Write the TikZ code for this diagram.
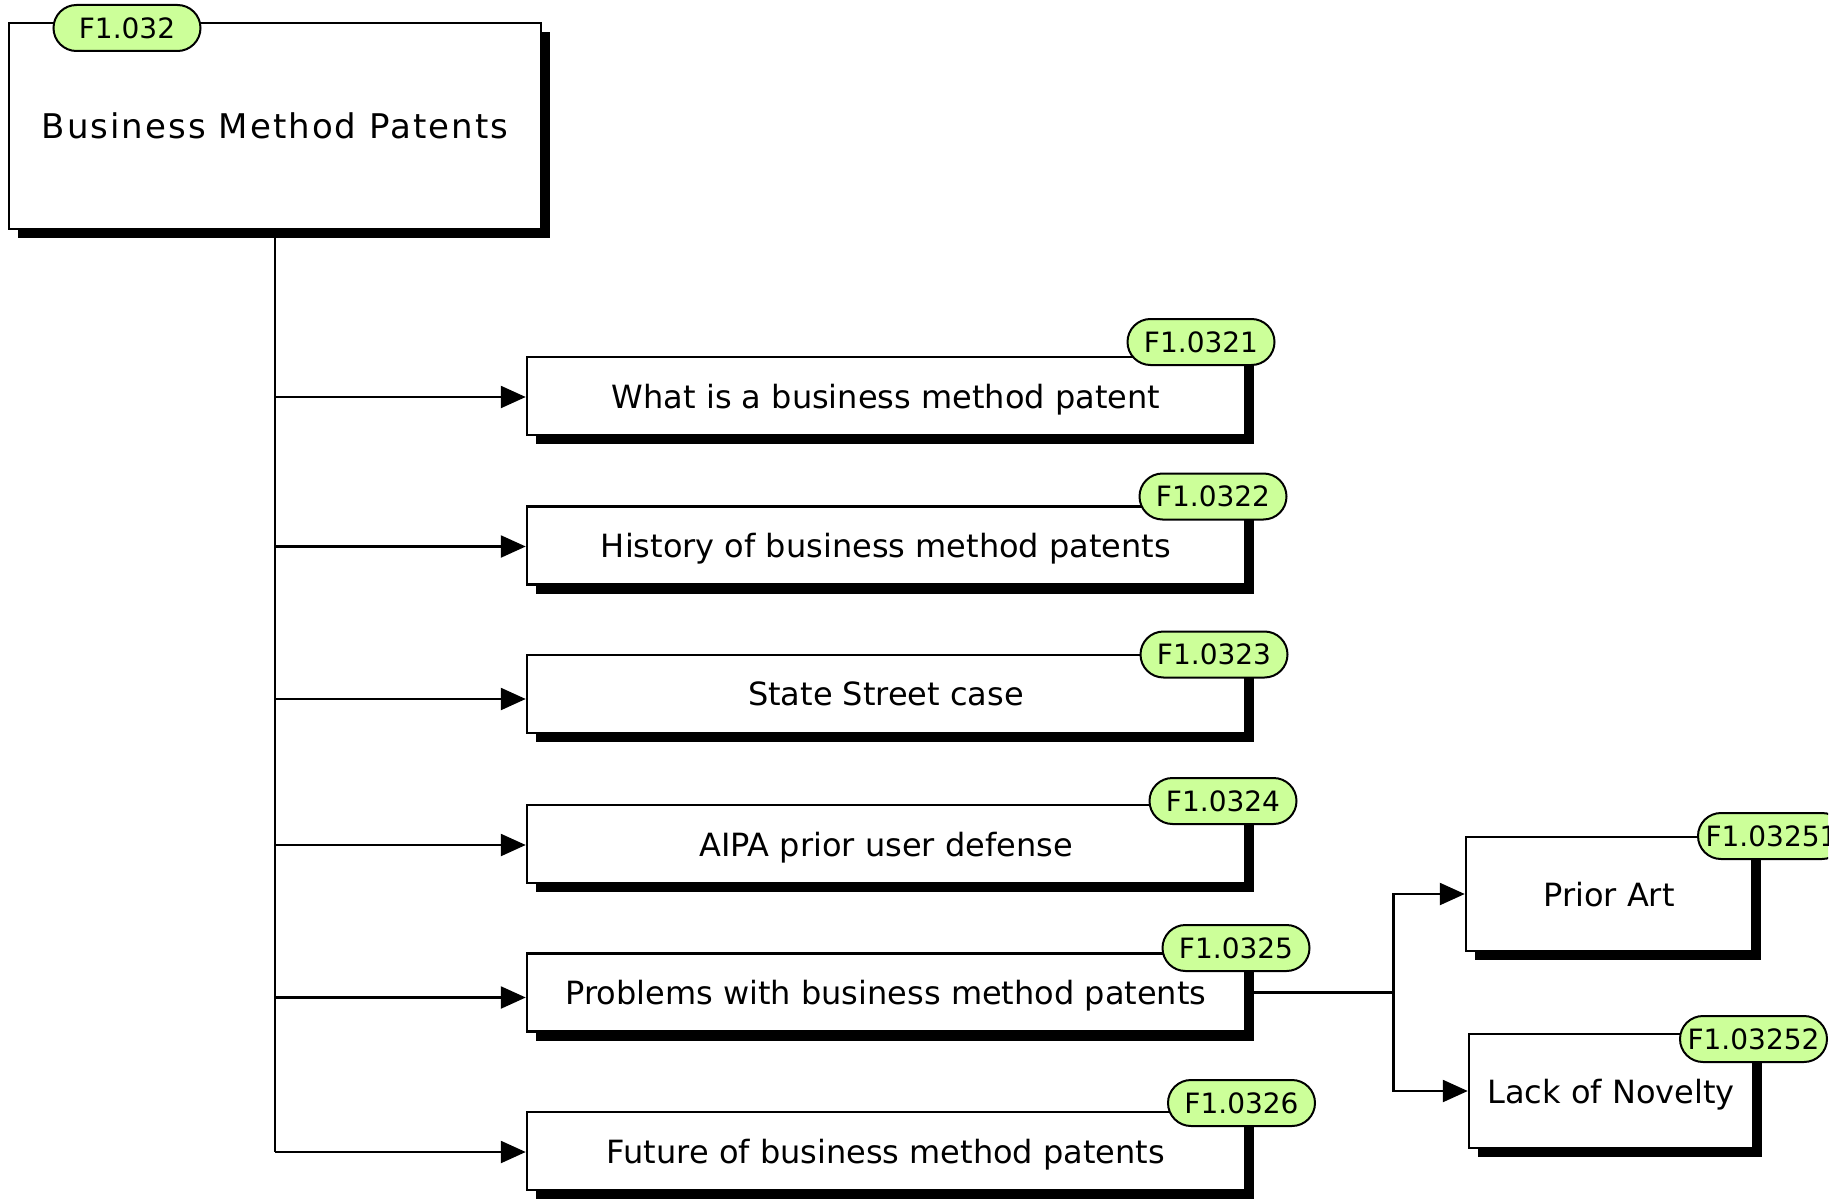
\documentclass[tikz,border=0pt]{standalone}
\usepackage{fontspec}
\setmainfont{DejaVu Sans}
\newfontfamily\spacedfont{DejaVu Sans}[LetterSpace=6]
\usetikzlibrary{arrows.meta}
\usetikzlibrary{shadows}
\definecolor{tagGreen}{RGB}{204,255,153}

\begin{document}
\begin{tikzpicture}[x=1pt,y=-1pt,
    topic/.style={draw,line width=2.5pt,fill=white,minimum width=718pt,minimum height=78pt,inner sep=0pt,
        font=\fontsize{32}{38}\selectfont,text depth=0pt,
        drop shadow={shadow xshift=9pt,shadow yshift=-9pt,fill=black,opacity=1}},
    tag/.style={draw,line width=2pt,fill=tagGreen,rounded corners=23pt,minimum width=147pt,minimum height=46pt,
        inner sep=0pt,font=\fontsize{28}{32}\selectfont},
    link/.style={line width=2.5pt},
    arr/.style={link,-{Triangle[length=25pt,width=22pt]}}]
    \useasboundingbox (0,0) rectangle (1845,1201);
    \clip (0,0) rectangle (1828,1201);

    % boxes
    \node[topic,minimum width=532pt,minimum height=206pt,font=\fontsize{34}{40}\spacedfont] (root) at (275,126) {Business Method Patents};
    \node[topic] (what) at (886,396) {What is a business method patent};
    \node[topic] (history) at (886,545.5) {History of business method patents};
    \node[topic] (state) at (886,694) {State Street case};
    \node[topic] (aipa) at (886,844) {AIPA prior user defense};
    \node[topic] (problems) at (886,992.5) {Problems with business method patents};
    \node[topic] (future) at (886,1151) {Future of business method patents};
    \node[topic,minimum width=286pt,minimum height=114pt] (prior) at (1609,894) {Prior Art};
    \node[topic,minimum width=284pt,minimum height=114pt] (novelty) at (1611,1091) {Lack of Novelty};

    % tags
    \node[tag] (t0) at (127,28) {F1.032};
    \node[tag] (t1) at (1201,342) {F1.0321};
    \node[tag] (t2) at (1213,496.5) {F1.0322};
    \node[tag] (t3) at (1214,654.5) {F1.0323};
    \node[tag] (t4) at (1223,801) {F1.0324};
    \node[tag] (t5) at (1236,948) {F1.0325};
    \node[tag] (t6) at (1241.5,1103) {F1.0326};
    \node[tag] (t7) at (1771.5,836) {F1.03251};
    \node[tag] (t8) at (1753.5,1039) {F1.03252};

    % connectors
    \foreach \n/\s in {what/1,history/1,state/5,aipa/1,problems/5,future/1}
        \path (\n.west) ++(0,\s) coordinate (e\n);
    \draw[link] (root.south) -- (root.south |- efuture);
    \foreach \n in {what,history,state,aipa,problems,future}
        \draw[arr] (root.south |- e\n) -- (e\n);
    \draw[link] (problems.east) -- ++(147,0) coordinate (fork);
    \draw[arr] (fork) |- (prior.west);
    \draw[arr] (fork) |- (novelty.west);
\end{tikzpicture}
\end{document}
